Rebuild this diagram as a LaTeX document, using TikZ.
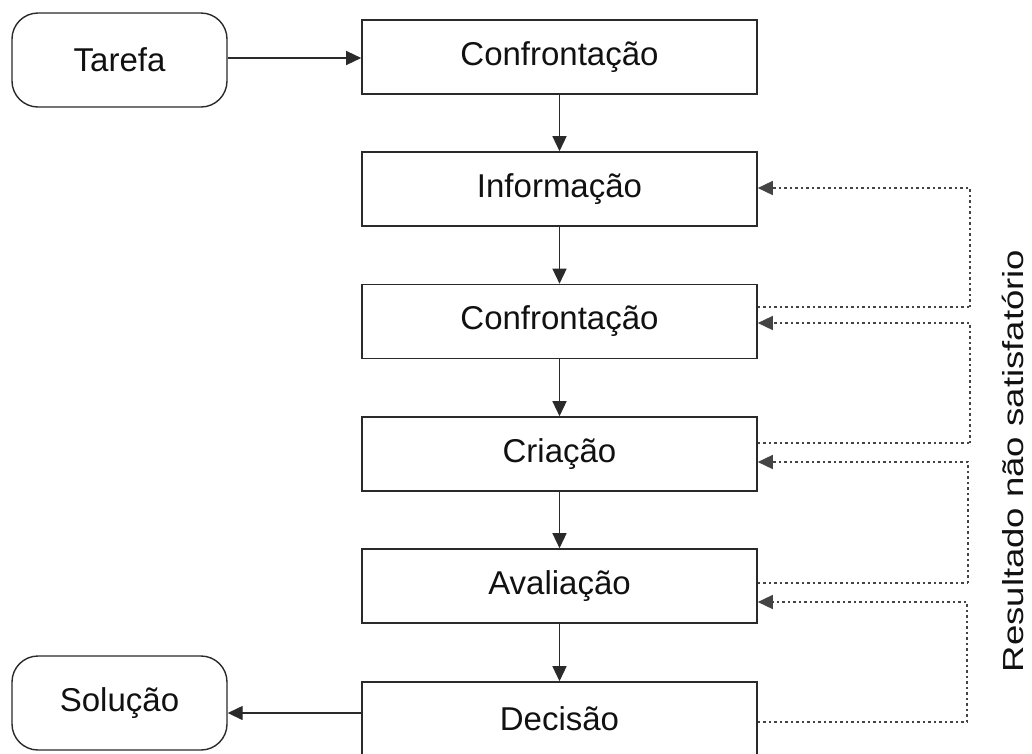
\documentclass[tikz,border=0pt]{standalone}
\usepackage{fontspec}
\setmainfont{Liberation Sans}
\usetikzlibrary{arrows.meta,calc}
\definecolor{ink}{HTML}{111111}
\definecolor{edge}{HTML}{2A2A2A}
\definecolor{dotc}{HTML}{444444}
\begin{document}
\begin{tikzpicture}[x=1pt,y=-1pt,
  every node/.style={font=\fontsize{33}{40}\selectfont, text=ink},
  stepbox/.style={draw=edge, line width=1.6pt, minimum width=395pt, minimum height=74pt, inner sep=0pt},
  termbox/.style={draw=edge, line width=1.4pt, rounded corners=26pt, minimum width=215pt, minimum height=94pt, inner sep=0pt},
  tip/.style={-{Triangle[length=15pt,width=14pt]}},
  flow/.style={draw=edge, line width=1.4pt, tip},
  back/.style={draw=dotc, line width=1.5pt, dash pattern=on 2.5pt off 3pt},
  backarr/.style={back, -{Triangle[length=15pt,width=14pt,sep=0pt]}}
]
\useasboundingbox (0,0) rectangle (1032,753);

\node[termbox] (tarefa) at (119.5,60) {Tarefa};
\node[termbox] (sol) at (119.5,703) {Solução};

\node[stepbox] (c1) at (559.5,57) {Confrontação};
\node[stepbox] (inf) at (559.5,189) {Informação};
\node[stepbox] (c2) at (559.5,321.5) {Confrontação};
\node[stepbox] (cri) at (559.5,454) {Criação};
\node[stepbox] (ava) at (559.5,586) {Avaliação};
\node[stepbox] (dec) at (559.5,719) {Decisão};

\node[rotate=90, anchor=base, font=\fontsize{29}{35}\selectfont] (lab) at (1023,461)
  {\scalebox{1.26}[1]{Resultado não satisfatório}};

% main flow
\draw[flow] (tarefa.east |- 0,58) -- (c1.west |- 0,58);
\draw[flow] (c1) -- (inf);
\draw[flow] (inf) -- (c2);
\draw[flow] (c2) -- (cri);
\draw[flow] (cri) -- (ava);
\draw[flow] (ava) -- (dec);
\draw[flow] (dec.west |- 0,713) -- (sol.east |- 0,713);

% feedback loops
\coordinate (v1a) at (970,307);
\coordinate (v1b) at (970,188);
\draw[back] (c2.east |- v1a) -- (v1a);
\draw[backarr] (v1a) -- (v1b) -- (inf.east |- v1b);

\coordinate (v2a) at (970,443);
\coordinate (v2b) at (970,323);
\draw[back] (cri.east |- v2a) -- (v2a);
\draw[backarr] (v2a) -- (v2b) -- (c2.east |- v2b);

\coordinate (v3a) at (968,583);
\coordinate (v3b) at (968,462);
\draw[back] (ava.east |- v3a) -- (v3a);
\draw[backarr] (v3a) -- (v3b) -- (cri.east |- v3b);

\coordinate (v4a) at (967,722);
\coordinate (v4b) at (967,602);
\draw[back] (dec.east |- v4a) -- (v4a);
\draw[backarr] (v4a) -- (v4b) -- (ava.east |- v4b);
\end{tikzpicture}
\end{document}
